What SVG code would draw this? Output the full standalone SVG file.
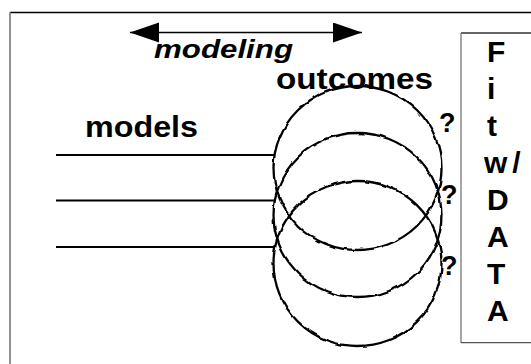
<svg xmlns="http://www.w3.org/2000/svg" width="531" height="364" viewBox="0 0 531 364">
  <style>
    .t { font-family: "Liberation Sans", Arial, sans-serif; font-weight: bold; fill: #000; }
    .ln { stroke: #000; stroke-width: 2; fill: none; }
    .circ { stroke: #000; stroke-width: 2.3; fill: none; }
  </style>
  <defs>
    <filter id="wob" x="-10%" y="-10%" width="120%" height="120%">
      <feTurbulence type="fractalNoise" baseFrequency="0.09" numOctaves="1" seed="4" result="n"/>
      <feDisplacementMap in="SourceGraphic" in2="n" scale="4" xChannelSelector="R" yChannelSelector="G"/>
    </filter>
    <marker id="ah" markerWidth="30" markerHeight="22" refX="29" refY="10" orient="auto-start-reverse" markerUnits="userSpaceOnUse">
      <path d="M0,0 L29,10 L0,20 Z" fill="#000"/>
    </marker>
  </defs>
  <rect width="531" height="364" fill="#fff"/>
  <g id="frame">
    <line x1="10" y1="12.5" x2="531" y2="12.5" stroke="#000" stroke-width="1.5"/>
    <line x1="10" y1="12" x2="10" y2="364" stroke="#777" stroke-width="1.6"/>
  </g>
  <g id="modeling">
    <line x1="130" y1="32.5" x2="362" y2="32.5" stroke="#000" stroke-width="1.5" marker-start="url(#ah)" marker-end="url(#ah)"/>
    <text class="t" x="154" y="58" font-size="26" font-style="italic" textLength="139" lengthAdjust="spacingAndGlyphs">modeling</text>
  </g>
  <g id="models">
    <text class="t" x="85" y="137" font-size="29" textLength="113" lengthAdjust="spacingAndGlyphs">models</text>
  </g>
  <g id="connectors">
    <line class="ln" x1="56" y1="155" x2="275" y2="155"/>
    <line class="ln" x1="56" y1="200.5" x2="274" y2="200.5"/>
    <line class="ln" x1="56" y1="247" x2="274" y2="247"/>
  </g>
  <g id="outcomes">
    <g filter="url(#wob)">
      <ellipse class="circ" cx="357.5" cy="168" rx="84" ry="82"/>
      <ellipse class="circ" cx="357.5" cy="215" rx="84" ry="82"/>
      <ellipse class="circ" cx="357.5" cy="263.5" rx="84" ry="82.5"/>
    </g>
    <text class="t" x="276" y="89" font-size="29" textLength="157" lengthAdjust="spacingAndGlyphs">outcomes</text>
    <text class="t" x="439" y="132" font-size="27">?</text>
    <text class="t" x="441" y="204" font-size="27">?</text>
    <text class="t" x="441" y="275" font-size="27">?</text>
  </g>
  <g id="fit-data">
    <line x1="461" y1="33" x2="531" y2="33" stroke="#333" stroke-width="1.3"/>
    <line x1="461" y1="33" x2="461" y2="343" stroke="#888" stroke-width="1.5"/>
    <line x1="461" y1="342.7" x2="531" y2="342.7" stroke="#555" stroke-width="1.3"/>
    <text class="t" x="487" y="62" font-size="30">F</text>
    <text class="t" x="487" y="98.5" font-size="30">i</text>
    <text class="t" x="487" y="135.5" font-size="30">t</text>
    <text class="t" x="484" y="172.5" font-size="30" letter-spacing="5">w/</text>
    <text class="t" x="487" y="209.5" font-size="30">D</text>
    <text class="t" x="487" y="246.5" font-size="30">A</text>
    <text class="t" x="487" y="283.5" font-size="30">T</text>
    <text class="t" x="487" y="320.5" font-size="30">A</text>
  </g>
</svg>
